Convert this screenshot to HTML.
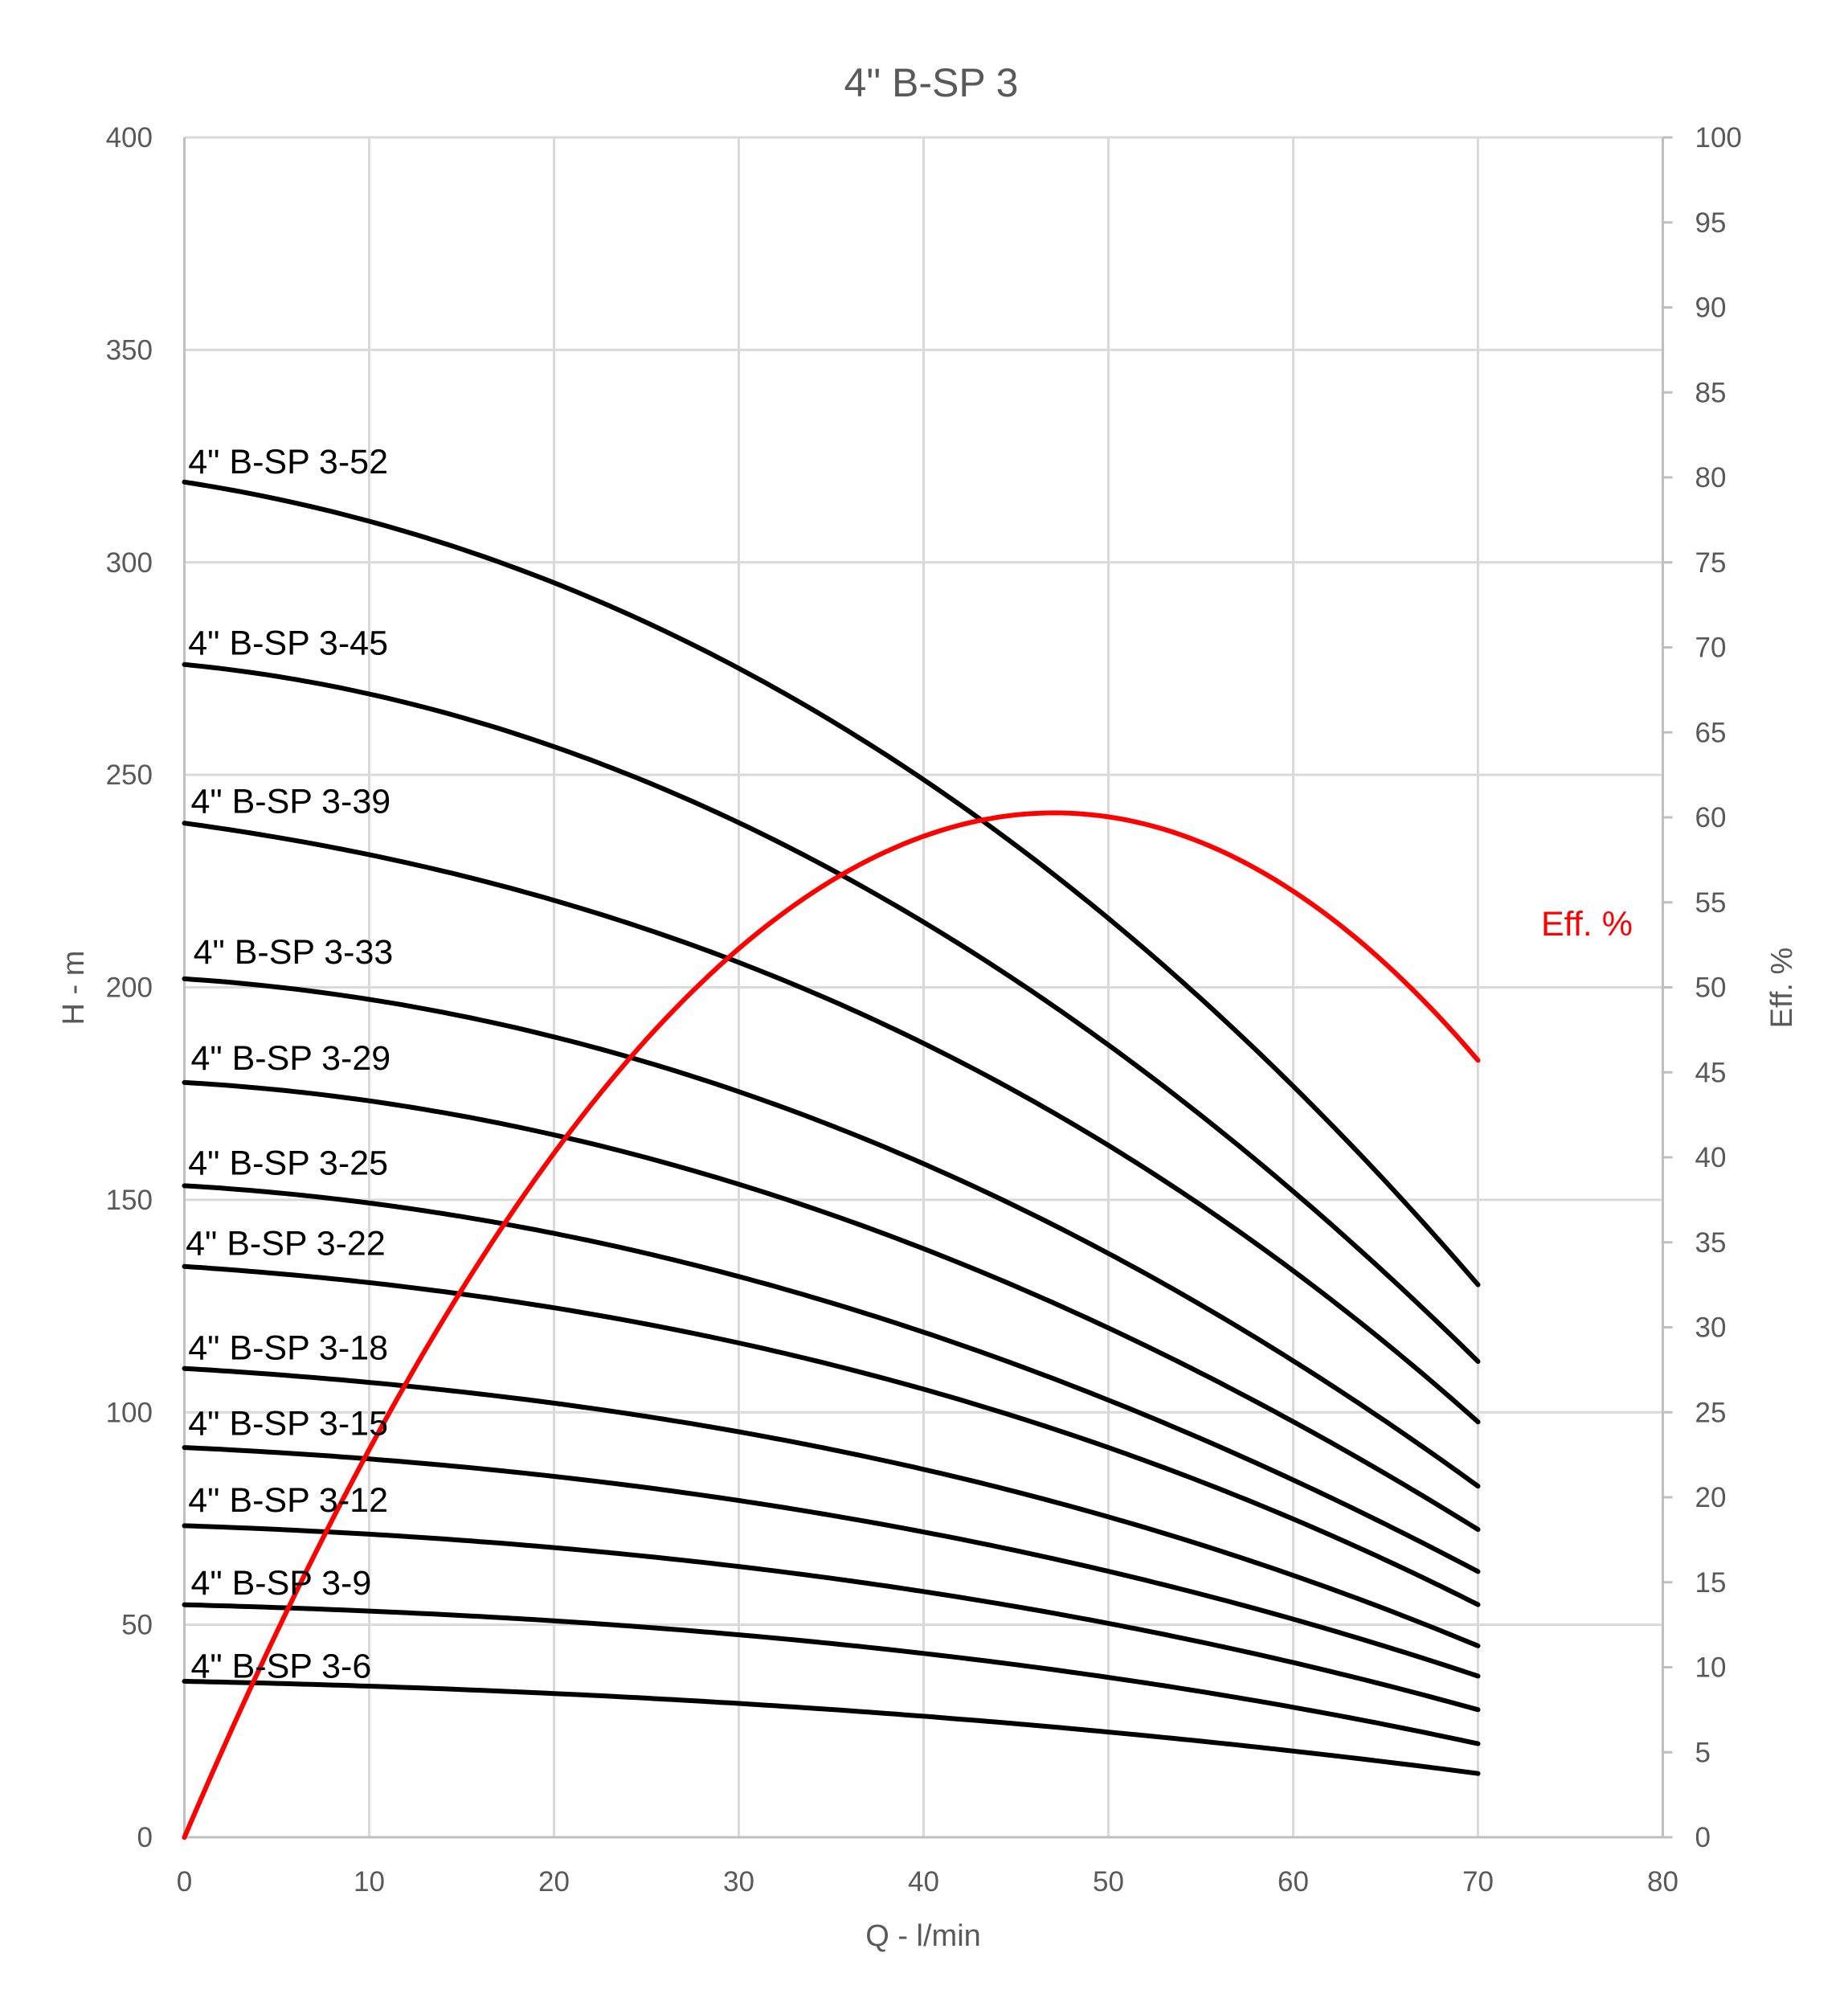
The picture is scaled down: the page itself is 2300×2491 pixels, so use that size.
<!DOCTYPE html>
<html><head><meta charset="utf-8"><style>
html,body{margin:0;padding:0;background:#fff;}
svg{display:block;}
text{font-family:"Liberation Sans",sans-serif;}
</style></head><body>
<svg id="s" width="2300" height="2491" xmlns="http://www.w3.org/2000/svg"></svg>
<script>
const L=229.5,R=2069.5,T=171,B=2286;
const X=q=>L+q*(R-L)/80, Y=h=>B-h*(B-T)/400, YE=e=>B-e*(B-T)/100;
let s='';
for(let i=1;i<=8;i++){s+=`<line x1="${X(i*10)}" y1="${T}" x2="${X(i*10)}" y2="${B}" stroke="#d9d9d9" stroke-width="3"/>`;}
for(let h=50;h<=400;h+=50){s+=`<line x1="${L}" y1="${Y(h)}" x2="${R}" y2="${Y(h)}" stroke="#d9d9d9" stroke-width="3"/>`;}
s+=`<line x1="${L}" y1="${T}" x2="${L}" y2="${B}" stroke="#bfbfbf" stroke-width="3"/>`;
s+=`<line x1="${L}" y1="${B}" x2="${R+12}" y2="${B}" stroke="#bfbfbf" stroke-width="3"/>`;
s+=`<line x1="${R}" y1="${T}" x2="${R}" y2="${B}" stroke="#bfbfbf" stroke-width="3"/>`;
for(let e=0;e<=100;e+=5){s+=`<line x1="${R}" y1="${YE(e)}" x2="${R+12}" y2="${YE(e)}" stroke="#bfbfbf" stroke-width="3"/>`;
 s+=`<text x="${R+40}" y="${YE(e)+12}" font-size="35" fill="#595959">${e}</text>`;}
for(let h=0;h<=400;h+=50){s+=`<text x="190" y="${Y(h)+12}" font-size="35" fill="#595959" text-anchor="end">${h}</text>`;}
for(let q=0;q<=80;q+=10){s+=`<text x="${X(q)}" y="2353" font-size="35" fill="#595959" text-anchor="middle">${q}</text>`;}
s+=`<text x="1159" y="120" font-size="50" fill="#595959" text-anchor="middle">4" B-SP 3</text>`;
s+=`<text x="1149" y="2421" font-size="38" fill="#595959" text-anchor="middle">Q - l/min</text>`;
s+=`<text transform="translate(104,1229) rotate(-90)" font-size="38" fill="#595959" text-anchor="middle">H - m</text>`;
s+=`<text transform="translate(2230,1229) rotate(-90)" font-size="38" fill="#595959" text-anchor="middle">Eff. %</text>`;
function polyfit(pts,deg,w0){
 const n=deg+1;const A=[];for(let i=0;i<n;i++){A.push(new Array(n+1).fill(0));}
 pts.forEach((p,k)=>{const w=(k==0||k==pts.length-1)?w0:1;const x=p[0]/70;
  for(let i=0;i<n;i++){for(let j=0;j<n;j++)A[i][j]+=w*Math.pow(x,i+j);A[i][n]+=w*p[1]*Math.pow(x,i);}});
 for(let i=0;i<n;i++){let m=i;for(let r=i+1;r<n;r++)if(Math.abs(A[r][i])>Math.abs(A[m][i]))m=r;[A[i],A[m]]=[A[m],A[i]];
  for(let r=0;r<n;r++){if(r==i)continue;const f=A[r][i]/A[i][i];for(let c=i;c<=n;c++)A[r][c]-=f*A[i][c];}}
 const co=[];for(let i=0;i<n;i++)co.push(A[i][n]/A[i][i]);
 return q=>{let v=0;const x=q/70;for(let i=0;i<n;i++)v+=co[i]*Math.pow(x,i);return v;};
}
function draw(f,fy,col){
 let d='';for(let q=0;q<=70.001;q+=0.5){d+=(q==0?'M':'L')+X(q).toFixed(1)+','+fy(f(q)).toFixed(1)+' ';}
 return `<path d="${d}" fill="none" stroke="${col}" stroke-width="6" stroke-linecap="round" stroke-linejoin="round"/>`;
}
const Q=[0,10,20,30,40,50,60,70];
const curves=[
 ['52',[318.9,310,295,275,249,216,177,130],148,370],
 ['45',[276,268,256,240,216,186,151,112],148,512],
 ['39',[238.6,232,222,204,186,163,135,97.7],150,636],
 ['33',[202,197,189,175,158,138,112,82.6],152,754],
 ['29',[177.6,173,166,153.5,138,119.6,98.6,72.4],150,837],
 ['25',[153.3,149.5,142.7,131.6,118,103,85,62.5],148,919],
 ['22',[134.3,131,125,116,104.6,91.7,76,54.7],146,982],
 ['18',[110.3,107.5,102.5,95,86,75.4,62.5,45],148,1064],
 ['15',[91.7,89.5,85,79,71.5,62.5,52,37.9],148,1123],
 ['12',[73.3,71.5,68.5,63.4,57.4,50.5,41.5,30],148,1183],
 ['9',[54.7,53.5,51,47.5,43,37.6,31,22],150,1248],
 ['6',[36.7,35.6,33.7,31.6,28.5,24.6,20.4,15],150,1313]
];
for(const c of curves){
 const pts=Q.map((q,i)=>[q,c[1][i]]);
 s+=draw(polyfit(pts,3,20),Y,'#000');
}
const eff=[[0,0],[4,9.6],[8,18.5],[12,26.9],[16,33.8],[20,40.4],[25,47],[30,52.3],[35,56.2],[40,58.8],[47,60.3],[52,59.6],[56,57.9],[60,55.8],[65,51.5],[70,45.7]];
s+=draw(polyfit(eff,4,20),YE,'#ff0000');
for(const c of curves){
 const x=L+(c[2]-145)*1.589, y=171+(c[3]-107)*1.589;
 s+=`<text x="${x}" y="${y}" font-size="43" fill="#000">4" B-SP 3-${c[0]}</text>`;
}
s+=`<text x="1918" y="1164" font-size="43" fill="#ff0000">Eff. %</text>`;
document.getElementById('s').innerHTML=s;
</script>
</body></html>
